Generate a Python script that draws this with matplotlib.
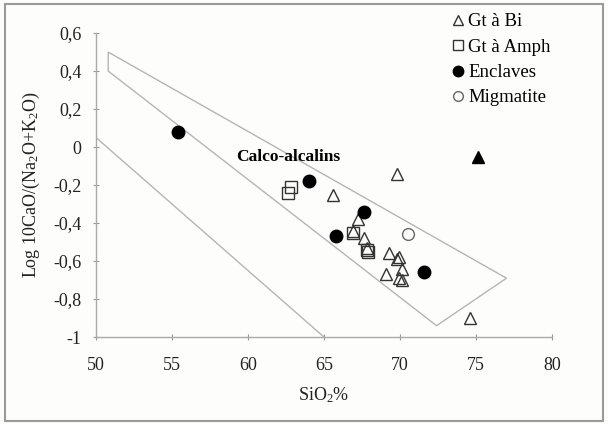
import matplotlib
matplotlib.use('Agg')
import matplotlib.pyplot as plt
from matplotlib.lines import Line2D
from matplotlib.patches import Polygon, Rectangle

plt.rcParams['font.family'] = ['Liberation Serif', 'DejaVu Serif']
plt.rcParams['mathtext.fontset'] = 'custom'
plt.rcParams['mathtext.rm'] = 'Liberation Serif'
plt.rcParams['mathtext.it'] = 'Liberation Serif:italic'

# data
bi_sio2 = [69.8, 65.6, 67.2, 66.9, 67.6, 67.8, 69.3, 69.9, 69.8, 70.1, 69.1, 69.9, 70.1, 74.6]
bi_log = [-0.14, -0.25, -0.38, -0.44, -0.48, -0.53, -0.56, -0.58, -0.59, -0.64, -0.67, -0.69, -0.70, -0.90]
amph_sio2 = [62.8, 62.6, 66.9, 67.8, 67.9]
amph_log = [-0.21, -0.24, -0.45, -0.54, -0.55]
encl_sio2 = [55.4, 64.0, 67.6, 65.8, 71.6]
encl_log = [0.08, -0.18, -0.34, -0.47, -0.66]
migm_sio2 = [70.5]
migm_log = [-0.46]
black_tri_sio2 = [75.1]
black_tri_log = [-0.05]

# calc-alkaline field and lower boundary line
field_x = [50.8, 77.0, 72.4, 50.8]
field_y = [0.50, -0.69, -0.94, 0.40]
line_x = [50.0, 65.0]
line_y = [0.05, -1.0]

fig = plt.figure(figsize=(6.08, 4.24), dpi=100)
fig.patch.set_facecolor('#fdfdfb')
fig.patches.append(Rectangle((0.008, 0.008), 0.984, 0.982, transform=fig.transFigure,
                             fill=False, edgecolor='#9a9a9a', linewidth=1.5))
ax = fig.add_axes([0.158, 0.205, 0.75, 0.717])
ax.set_facecolor('#fdfdfb')

ax.add_patch(Polygon(list(zip(field_x, field_y)), closed=True, fill=False,
                     edgecolor='#b5b5b5', linewidth=1.0))
ax.plot(line_x, line_y, color='#b5b5b5', linewidth=1.0)

ax.plot(bi_sio2, bi_log, '^', ms=9, mfc='none', mec='#333333', mew=1.0, ls='none')
ax.plot(amph_sio2, amph_log, 's', ms=8, mfc='none', mec='#333333', mew=1.0, ls='none')
ax.plot(encl_sio2, encl_log, 'o', ms=9, mfc='black', mec='black', ls='none')
ax.plot(migm_sio2, migm_log, 'o', ms=8.5, mfc='none', mec='#666666', mew=1.0, ls='none')
ax.plot(black_tri_sio2, black_tri_log, '^', ms=8, mfc='black', mec='black', ls='none')

ax.text(59.2, -0.05, 'Calco-alcalins', fontsize=12.5, fontweight='bold', va='center')

ax.set_xlim(50, 80)
ax.set_ylim(-1, 0.6)
ax.set_xticks([50, 55, 60, 65, 70, 75, 80])
ax.set_yticks([-1, -0.8, -0.6, -0.4, -0.2, 0, 0.2, 0.4, 0.6])
ax.set_yticklabels(['-1', '-0,8', '-0,6', '-0,4', '-0,2', '0', '0,2', '0,4', '0,6'])
ax.tick_params(direction='inout', length=5, width=0.8, color='#999999',
               labelsize=13, labelcolor='#222222', pad=8)
ax.tick_params(axis='x', pad=12)
for s in ['top', 'right']:
    ax.spines[s].set_visible(False)
for s in ['left', 'bottom']:
    ax.spines[s].set_color('#aaaaaa')
    ax.spines[s].set_linewidth(1.0)

ax.set_xlabel('SiO$_2$%', fontsize=13, color='#222222', labelpad=8)
ax.set_ylabel('Log 10CaO/(Na$_2$O+K$_2$O)', fontsize=13, color='#222222', labelpad=8)

handles = [
    Line2D([], [], marker='^', ls='none', ms=7, mfc='none', mec='#333333'),
    Line2D([], [], marker='s', ls='none', ms=7.5, mfc='none', mec='#333333'),
    Line2D([], [], marker='o', ls='none', ms=7.5, mfc='black', mec='black'),
    Line2D([], [], marker='o', ls='none', ms=7, mfc='none', mec='#666666'),
]
labels = ['Gt à Bi', 'Gt à Amph', 'Enclaves', 'Migmatite']
ax.legend(handles, labels, loc='upper left', bbox_to_anchor=(0.765, 1.09), frameon=False,
          fontsize=13.5, handlelength=0.6, handletextpad=0.25, labelspacing=0.44,
          borderaxespad=0)

fig.savefig('out.png', dpi=100, facecolor=fig.get_facecolor())
